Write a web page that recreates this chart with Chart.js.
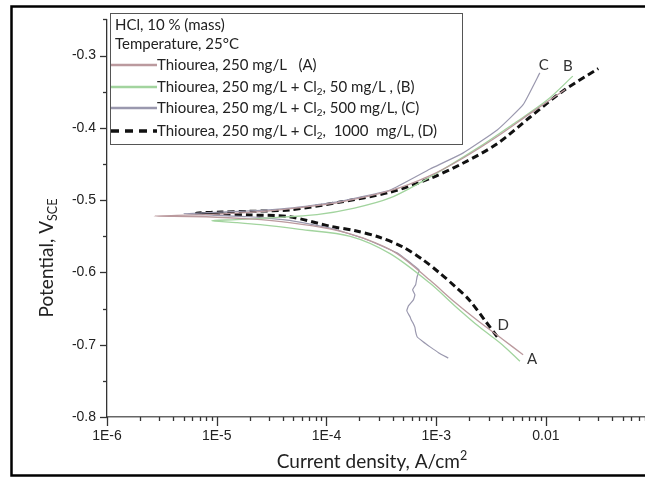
<!DOCTYPE html>
<html>
<head>
<meta charset="utf-8">
<script src="https://cdn.jsdelivr.net/npm/chart.js@4.4.1/dist/chart.umd.min.js"></script>
<style>
  html, body { margin:0; padding:0; background:#fff; }
  #wrap { width:645px; height:477px; }
</style>
</head>
<body>
<div id="wrap"><canvas id="tafel" width="645" height="477"></canvas></div>
<script>
// ===== DATA (current density A/cm2, potential V vs SCE) =====
// each curve: cathodic end -> corrosion tip -> anodic end
const curA_I = [6.2e-3, 4.0e-3, 2.5e-3, 1.5e-3, 8.8e-4, 4.4e-4, 2.2e-4, 1.1e-4, 4.6e-5, 2.0e-5, 8.0e-6, 2.7e-6, 8.0e-6, 2.0e-5, 4.6e-5, 1.3e-4, 3.8e-4, 8.8e-4, 1.75e-3, 3.6e-3, 7.2e-3, 1.5e-2];
const curA_E = [-0.714, -0.692, -0.669, -0.642, -0.611, -0.574, -0.553, -0.540, -0.531, -0.526, -0.523, -0.522, -0.520, -0.517, -0.512, -0.503, -0.487, -0.466, -0.442, -0.412, -0.380, -0.347];

const curB_I = [5.8e-3, 4.0e-3, 2.5e-3, 1.5e-3, 8.8e-4, 3.8e-4, 1.65e-4, 5.7e-5, 2.5e-5, 1.5e-5, 9.0e-6, 1.5e-5, 3.0e-5, 8.2e-5, 1.8e-4, 3.8e-4, 8.8e-4, 2.5e-3, 5.0e-3, 1.02e-2, 1.76e-2];
const curB_E = [-0.723, -0.700, -0.676, -0.647, -0.615, -0.574, -0.550, -0.5405, -0.534, -0.531, -0.5285, -0.527, -0.5245, -0.520, -0.511, -0.497, -0.468, -0.426, -0.395, -0.362, -0.3285];

const curC_I = [1.29e-3, 1.05e-3, 8.8e-4, 7.6e-4, 6.7e-4, 6.5e-4, 6.4e-4, 6.1e-4, 5.9e-4, 5.8e-4, 5.4e-4, 5.6e-4, 6.2e-4, 6.4e-4, 6.1e-4, 6.5e-4, 6.7e-4, 7.0e-4, 6.2e-4, 4.4e-4, 2.2e-4, 1.1e-4, 4.6e-5, 2.0e-5, 5.0e-6, 2.0e-5, 4.6e-5, 1.3e-4, 3.8e-4, 8.8e-4, 1.75e-3, 3.6e-3, 6.2e-3, 8.8e-3];
const curC_E = [-0.7185, -0.711, -0.703, -0.696, -0.689, -0.6824, -0.676, -0.669, -0.665, -0.662, -0.653, -0.646, -0.638, -0.631, -0.624, -0.617, -0.606, -0.597, -0.590, -0.573, -0.553, -0.539, -0.528, -0.523, -0.519, -0.515, -0.511, -0.502, -0.486, -0.457, -0.435, -0.403, -0.368, -0.324];

const curD_I = [3.6e-3, 2.8e-3, 2.0e-3, 1.5e-3, 1.08e-3, 7.5e-4, 5.0e-4, 3.0e-4, 1.8e-4, 1.1e-4, 4.6e-5, 2.0e-5, 1.1e-5, 6.5e-6, 1.1e-5, 2.0e-5, 4.6e-5, 1.3e-4, 3.8e-4, 8.8e-4, 1.75e-3, 3.6e-3, 7.2e-3, 1.43e-2, 3.0e-2];
const curD_E = [-0.689, -0.667, -0.638, -0.620, -0.601, -0.582, -0.565, -0.551, -0.542, -0.5365, -0.523, -0.5205, -0.519, -0.518, -0.5165, -0.5155, -0.5135, -0.503, -0.489, -0.470, -0.449, -0.422, -0.385, -0.349, -0.318];

const xMajor  = [1e-6, 1e-5, 1e-4, 1e-3, 1e-2];
const xLabels = ['1E-6', '1E-5', '1E-4', '1E-3', '0.01'];
const yMajor  = [-0.8, -0.7, -0.6, -0.5, -0.4, -0.3];
const yLabels = ['-0.8', '-0.7', '-0.6', '-0.5', '-0.4', '-0.3'];
const yMinor  = [-0.75, -0.65, -0.55, -0.45, -0.35, -0.25];

const headerLines = ['HCl, 10 % (mass)', 'Temperature, 25°C'];
const seriesNames = [
  ['Thiourea, 250 mg/L   (A)'],
  ['Thiourea, 250 mg/L + Cl', '_2', ', 50 mg/L , (B)'],
  ['Thiourea, 250 mg/L + Cl', '_2', ', 500 mg/L, (C)'],
  ['Thiourea, 250 mg/L + Cl', '_2', ',  1000  mg/L, (D)']
];
const curveTags = ['A', 'B', 'C', 'D'];

const TXT = 'Lato, Carlito, Calibri, sans-serif';
const NUM = '"Liberation Sans", Arial, sans-serif';

const pts = (I, E) => I.map((v, i) => ({ x: v, y: E[i] }));

const styles = [
  { color: '#bb9a9e', width: 1.3, dash: [], tension: 0.3 },
  { color: '#a2d49e', width: 1.3, dash: [], tension: 0.3 },
  { color: '#9a98ae', width: 1.2, dash: [], tension: 0.12 },
  { color: '#111111', width: 3, dash: [7, 4], tension: 0.3 }
];
const curves = [pts(curA_I, curA_E), pts(curB_I, curB_E), pts(curC_I, curC_E), pts(curD_I, curD_E)];

// draws plain/sub/superscript pieces, returns total width
function richText(ctx, parts, x, y, size, draw = true) {
  let cx = x;
  parts.forEach(p => {
    let s = size, dy = 0, t = p;
    if (p[0] === '_') { t = p.slice(1); s = size * 0.66; dy = size * 0.3; }
    if (p[0] === '^') { t = p.slice(1); s = size * 0.66; dy = -size * 0.33; }
    ctx.font = s + 'px ' + TXT;
    if (draw) ctx.fillText(t, cx, y + dy);
    cx += ctx.measureText(t).width;
  });
  return cx - x;
}

function seg(ctx, x1, y1, x2, y2) {
  ctx.beginPath(); ctx.moveTo(x1, y1); ctx.lineTo(x2, y2); ctx.stroke();
}

const decorPlugin = {
  id: 'decor',
  beforeDraw(chart) {
    const ctx = chart.ctx;
    ctx.save();
    ctx.fillStyle = '#fff';
    ctx.fillRect(0, 0, chart.width, chart.height);
    ctx.restore();
  },
  afterDraw(chart) {
    const ctx = chart.ctx, xs = chart.scales.x, ys = chart.scales.y, a = chart.chartArea;
    ctx.save();

    // tick marks
    ctx.strokeStyle = '#333';
    ctx.lineWidth = 1.3;
    xMajor.forEach(d => {
      const px = Math.round(xs.getPixelForValue(d)) + 0.5;
      seg(ctx, px, a.bottom, px, a.bottom + 9);
      for (let m = 2; m <= 9; m++) {
        if (m * d > xs.max) break;
        const q = Math.round(xs.getPixelForValue(m * d)) + 0.5;
        seg(ctx, q, a.bottom, q, a.bottom + 4);
      }
    });
    yMajor.forEach(v => { const py = Math.round(ys.getPixelForValue(v)) + 0.5; seg(ctx, a.left, py, a.left - 7, py); });
    yMinor.forEach(v => { const py = Math.round(ys.getPixelForValue(v)) + 0.5; seg(ctx, a.left, py, a.left - 4, py); });

    // curve tags next to curve ends
    ctx.fillStyle = '#333';
    ctx.font = '15px ' + TXT;
    ctx.textAlign = 'center';
    ctx.textBaseline = 'middle';
    const tagAt = [
      [curA_I[0], curA_E[0], 9, 4],
      [curB_I[curB_I.length - 1], curB_E[curB_E.length - 1], -5, -10],
      [curC_I[curC_I.length - 1], curC_E[curC_E.length - 1], 4, -8],
      [curD_I[0], curD_E[0], 6, -12]
    ];
    tagAt.forEach((t, i) => {
      ctx.fillText(curveTags[i], xs.getPixelForValue(t[0]) + t[2], ys.getPixelForValue(t[1]) + t[3]);
    });

    // legend box
    const bx = 110.5, by = 13.5, bw = 352, bh = 131;
    ctx.fillStyle = '#fff';
    ctx.fillRect(bx, by, bw, bh);
    ctx.strokeStyle = '#555';
    ctx.lineWidth = 1;
    ctx.strokeRect(bx, by, bw, bh);
    ctx.fillStyle = '#222';
    ctx.textAlign = 'left';
    ctx.textBaseline = 'middle';
    const rows = [25, 44, 65, 87, 108, 131];
    headerLines.forEach((t, i) => richText(ctx, [t], 115, rows[i], 15));
    seriesNames.forEach((parts, i) => {
      const y = rows[i + 2];
      const st = styles[i];
      ctx.strokeStyle = st.color;
      ctx.lineWidth = i === 3 ? 3.5 : 2.5;
      ctx.setLineDash(i === 3 ? [8, 6] : []);
      seg(ctx, 111, y, 157, y);
      ctx.setLineDash([]);
      ctx.fillStyle = '#222';
      richText(ctx, parts, 157, y, 15);
    });

    // axis titles
    ctx.fillStyle = '#222';
    const xt = ['Current density, A/cm', '^2'];
    const xw = richText(ctx, xt, 0, 0, 19, false);
    richText(ctx, xt, 372 - xw / 2, 462, 19);
    const yt = ['Potential, V', '_SCE'];
    const yw = richText(ctx, yt, 0, 0, 19, false);
    ctx.translate(47, 258);
    ctx.rotate(-Math.PI / 2);
    richText(ctx, yt, -yw / 2, 0, 19);
    ctx.setTransform(1, 0, 0, 1, 0, 0);

    // outer frame (right side cropped in the original)
    ctx.strokeStyle = '#000';
    ctx.lineWidth = 2.5;
    ctx.beginPath();
    ctx.moveTo(chart.width, 6.5);
    ctx.lineTo(11.5, 6.5);
    ctx.lineTo(11.5, 475.5);
    ctx.lineTo(chart.width, 475.5);
    ctx.stroke();
    ctx.restore();
  }
};

new Chart(document.getElementById('tafel').getContext('2d'), {
  type: 'line',
  data: {
    datasets: curves.map((d, i) => ({
      label: curveTags[i],
      data: d,
      borderColor: styles[i].color,
      borderWidth: styles[i].width,
      borderDash: styles[i].dash,
      tension: styles[i].tension,
      pointRadius: 0,
      fill: false
    }))
  },
  options: {
    responsive: false,
    animation: false,
    devicePixelRatio: 1,
    layout: { padding: { top: 10, right: 0, left: 0, bottom: 0 } },
    plugins: { legend: { display: false }, tooltip: { enabled: false } },
    scales: {
      x: {
        type: 'logarithmic',
        min: 1e-6,
        max: 0.08,
        afterBuildTicks: s => { s.ticks = xMajor.map(v => ({ value: v })); },
        afterFit: s => { s.height = 60; },
        grid: { display: false, drawTicks: false },
        border: { display: true, color: '#666', width: 1.6 },
        ticks: {
          autoSkip: false, maxRotation: 0, padding: 11,
          color: '#222', font: { family: NUM, size: 14 },
          callback: (v, i) => xLabels[i]
        }
      },
      y: {
        type: 'linear',
        min: -0.8,
        max: -0.25,
        afterBuildTicks: s => { s.ticks = yMajor.map(v => ({ value: v })); },
        afterFit: s => { s.width = 107; },
        grid: { display: false, drawTicks: false },
        border: { display: true, color: '#333', width: 1.3 },
        ticks: {
          autoSkip: false, padding: 11,
          color: '#222', font: { family: NUM, size: 14 },
          callback: (v, i) => yLabels[i]
        }
      }
    }
  },
  plugins: [decorPlugin]
});
</script>
</body>
</html>
